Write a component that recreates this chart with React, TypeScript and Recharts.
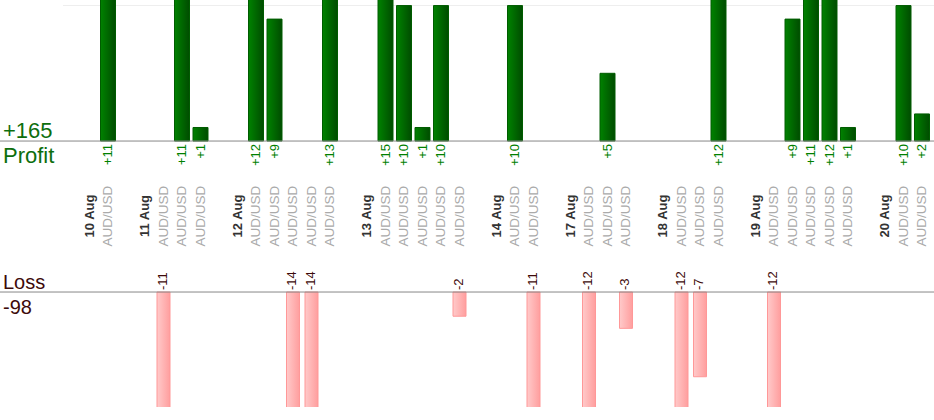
import React from 'react';
import { BarChart, Bar, XAxis, YAxis, ReferenceLine, LabelList } from 'recharts';

// trading days and the result (pips) of each AUD/USD trade on that day
const days = ['10 Aug', '11 Aug', '12 Aug', '13 Aug', '14 Aug', '17 Aug', '18 Aug', '19 Aug', '20 Aug'];
const results = [
  [11],
  [-11, 11, 1],
  [12, 9, -14, -14, 13],
  [15, 10, 1, 10, -2],
  [10, -11],
  [-12, 5, -3],
  [-12, -7, 12],
  [-12, 9, 11, 12, 1],
  [10, 2],
];
const pair = 'AUD/USD';
const gridValues = [10];

type Row = { key: string; day?: string; pair?: string; profit?: number; loss?: number };

// one slot for the date, one per trade, and an empty slot between days
const rows: Row[] = [];
days.forEach((day, d) => {
  rows.push({ key: `d${d}`, day });
  results[d].forEach((pips, t) =>
    rows.push({
      key: `d${d}t${t}`,
      pair,
      profit: pips > 0 ? pips : undefined,
      loss: pips < 0 ? pips : undefined,
    })
  );
  if (d < days.length - 1) rows.push({ key: `d${d}gap` });
});

const totalProfit = results.flat().filter((v) => v > 0).reduce((a, b) => a + b, 0);
const totalLoss = results.flat().filter((v) => v < 0).reduce((a, b) => a + b, 0);

const FONT = '"Liberation Sans", Arial, sans-serif';
const LABEL_Y = 216;
const GREEN_TEXT = '#0d6e0d';
const RED_TEXT = '#3d0a0a';

function RowTick(props: any) {
  const { x, payload } = props;
  const row = rows.find((r) => r.key === payload.value);
  if (!row || (!row.day && !row.pair)) return <g />;
  const isDay = !!row.day;
  return (
    <text
      x={x}
      y={LABEL_Y}
      transform={`rotate(-90 ${x} ${LABEL_Y})`}
      textAnchor="middle"
      dominantBaseline="central"
      fontFamily={FONT}
      fontSize={isDay ? 13 : 13.5}
      fontWeight={isDay ? 'bold' : 'normal'}
      fill={isDay ? '#333333' : '#aaaaaa'}
    >
      {isDay ? row.day : row.pair}
    </text>
  );
}

function ProfitLabel(props: any) {
  const { value } = props;
  if (value == null) return null;
  const vb = props.viewBox ?? props;
  const cx = vb.x + vb.width / 2;
  const base = Math.max(vb.y, vb.y + vb.height) + 3;
  return (
    <text
      x={cx}
      y={base}
      transform={`rotate(-90 ${cx} ${base})`}
      textAnchor="end"
      dominantBaseline="central"
      fontFamily={FONT}
      fontSize={13}
      fill="#008000"
    >
      {`+${value}`}
    </text>
  );
}

function LossLabel(props: any) {
  const { value } = props;
  if (value == null) return null;
  const vb = props.viewBox ?? props;
  const cx = vb.x + vb.width / 2 - 1;
  const base = Math.min(vb.y, vb.y + vb.height) - 2;
  return (
    <text
      x={cx}
      y={base}
      transform={`rotate(-90 ${cx} ${base})`}
      textAnchor="start"
      dominantBaseline="central"
      fontFamily={FONT}
      fontSize={13}
      fill={RED_TEXT}
    >
      {`${value}`}
    </text>
  );
}

function baseline(top: string, bottom: string, color: string, size: number) {
  return (p: any) => (
    <g>
      <line x1={0} x2={934} y1={p.y1} y2={p.y2} stroke="#888888" strokeWidth={1} />
      <text x={3} y={p.y1 - 3} fontFamily={FONT} fontSize={size} fill={color}>
        {top}
      </text>
      <text x={3} y={p.y1 + 22} fontFamily={FONT} fontSize={size} fill={color}>
        {bottom}
      </text>
    </g>
  );
}

const gridLine = (p: any) => (
  <line x1={63} x2={934} y1={p.y1} y2={p.y2} stroke="#eeeeee" strokeWidth={1} />
);

export default function App() {
  return (
    <div style={{ position: 'absolute', left: 0, top: 0, fontFamily: FONT }}>
      <BarChart width={934} height={420} data={rows} margin={{ top: 0, right: 3, bottom: 12, left: 80 }}>
        <defs>
          <linearGradient id="gain" x1="0" y1="0" x2="1" y2="0">
            <stop offset="0%" stopColor="#008200" />
            <stop offset="100%" stopColor="#004c00" />
          </linearGradient>
          <linearGradient id="drop" x1="0" y1="0" x2="1" y2="0">
            <stop offset="0%" stopColor="#ffcaca" />
            <stop offset="100%" stopColor="#ff9e9e" />
          </linearGradient>
        </defs>
        <XAxis
          xAxisId="p"
          dataKey="key"
          height={1}
          interval={0}
          axisLine={false}
          tickLine={false}
          tick={(p: any) => <RowTick {...p} />}
        />
        <XAxis xAxisId="l" dataKey="key" hide />
        <YAxis yAxisId="p" hide type="number" domain={[-19.63, 10.41]} allowDataOverflow />
        <YAxis yAxisId="l" hide type="number" domain={[-9.5, 24.13]} allowDataOverflow />
        {gridValues.map((v) => (
          <ReferenceLine key={v} xAxisId="p" yAxisId="p" y={v} zIndex={-100} shape={gridLine} />
        ))}
        <Bar
          xAxisId="p"
          yAxisId="p"
          dataKey="profit"
          barSize={15}
          fill="url(#gain)"
          stroke="#005c00"
          strokeWidth={1}
          isAnimationActive={false}
        >
          <LabelList dataKey="profit" content={(p: any) => <ProfitLabel {...p} />} />
        </Bar>
        <Bar
          xAxisId="l"
          yAxisId="l"
          dataKey="loss"
          barSize={13}
          fill="url(#drop)"
          stroke="#ff9898"
          strokeWidth={1}
          isAnimationActive={false}
        >
          <LabelList dataKey="loss" content={(p: any) => <LossLabel {...p} />} />
        </Bar>
        <ReferenceLine
          xAxisId="p"
          yAxisId="p"
          y={0}
          shape={baseline(`+${totalProfit}`, 'Profit', GREEN_TEXT, 22)}
        />
        <ReferenceLine
          xAxisId="l"
          yAxisId="l"
          y={0}
          shape={baseline('Loss', `${totalLoss}`, RED_TEXT, 20)}
        />
      </BarChart>
    </div>
  );
}
